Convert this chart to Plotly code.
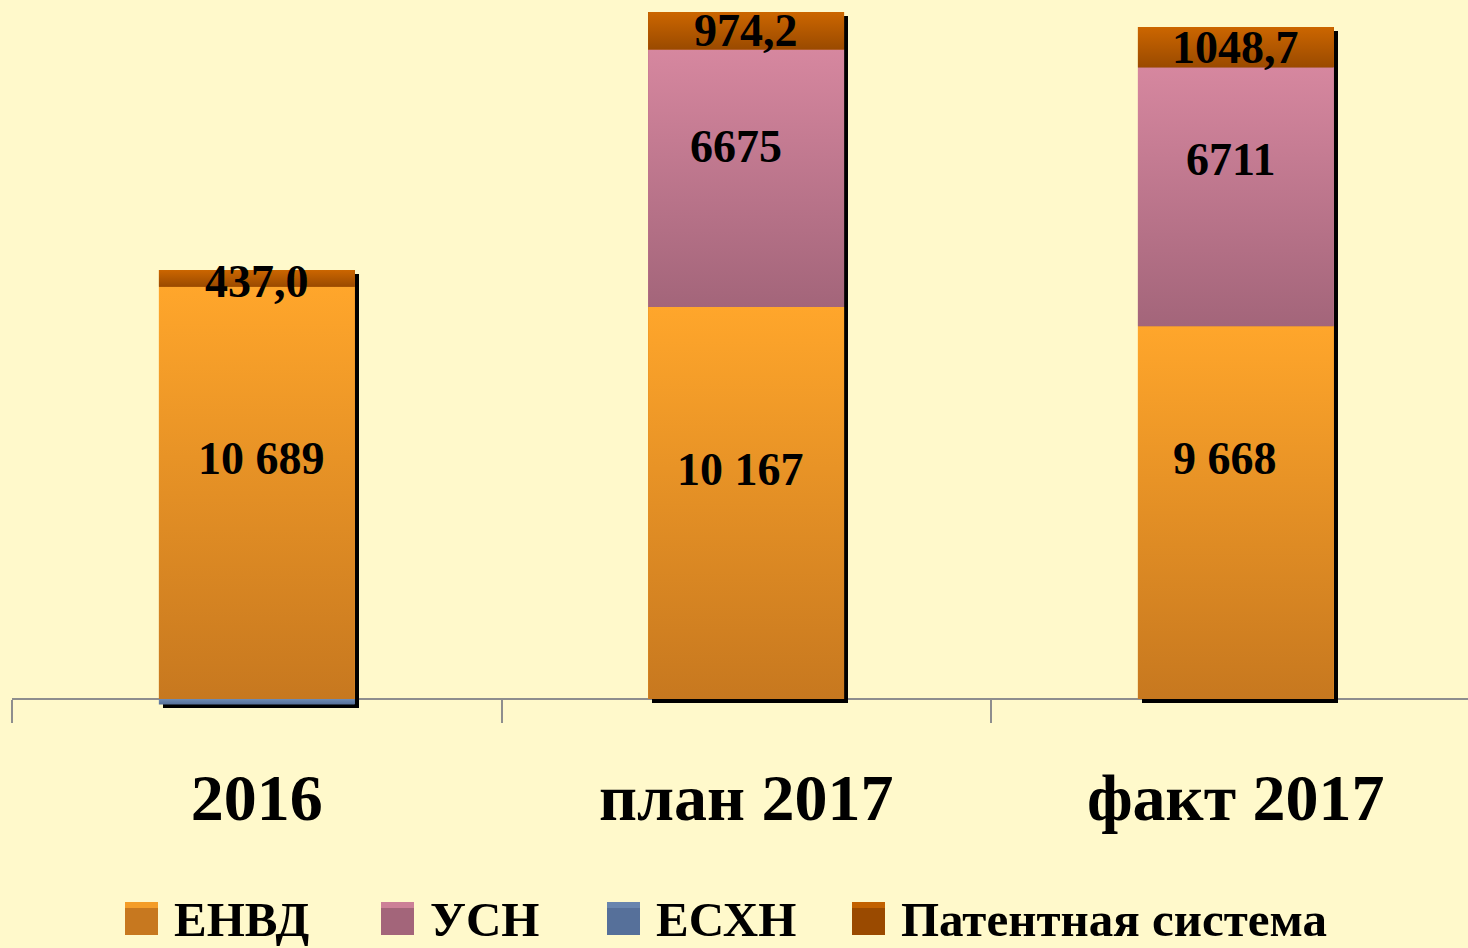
import plotly.graph_objects as go

# ---------------- data ----------------
categories = ["2016", "план 2017", "факт 2017"]
series_names = ["ЕНВД", "УСН", "ЕСХН", "Патентная система"]
envd = [10689, 10167, 9668]
usn = [0, 6675, 6711]
eshn = [-140, 0, 0]
patent = [437.0, 974.2, 1048.7]
envd_labels = ["10 689", "10 167", "9 668"]
usn_labels = ["", "6675", "6711"]
patent_labels = ["437,0", "974,2", "1048,7"]

# ---------------- style ----------------
W, H = 1468, 948
BG = "#FFF9CB"
FONT = "Liberation Serif"
ML, MT, MB = 12, 0, 218
PX_PER_UNIT_Y = 0.03856
X_RANGE = [-0.5, -0.5 + (W - ML) / 489.5]
PLOT_H = H - MT - MB
ZERO_PX = 699
Y_MAX = (ZERO_PX - MT) / PX_PER_UNIT_Y
Y_MIN = -(H - MB - ZERO_PX) / PX_PER_UNIT_Y
BAR_W = 0.4
SHADOW_DX = 4 / 489.5
SHADOW_DY = 4 / PX_PER_UNIT_Y
LEG_Y = 902  # top of legend squares (px)
LEG_FONT = 49

grad = {
    "ЕНВД": ("#C7781F", "#FFA62B"),
    "УСН": ("#A3657A", "#D6879F"),
    "ЕСХН": ("#56709A", "#6E8BB3"),
    "Патентная система": ("#9A4A00", "#CC6600"),
}
solid = {"ЕНВД": "#E08E25", "УСН": "#BC7589", "ЕСХН": "#5A7499", "Патентная система": "#B35800"}

values = {"ЕНВД": envd, "УСН": usn, "ЕСХН": eshn, "Патентная система": patent}

fig = go.Figure()

# shadow behind each stacked column
pos_tot = [a + b + d for a, b, d in zip(envd, usn, patent)]
neg_tot = [min(0, e) for e in eshn]
fig.add_trace(go.Bar(
    x=categories,
    y=[p - n for p, n in zip(pos_tot, neg_tot)],
    base=[n - SHADOW_DY for n in neg_tot],
    width=BAR_W, offset=-BAR_W / 2 + SHADOW_DX,
    marker=dict(color="black", line=dict(width=0)),
    showlegend=False, hoverinfo="skip",
))

# stacked bars (relative stacking)
for name in series_names:
    fig.add_trace(go.Bar(
        x=categories, y=values[name], name=name, width=BAR_W,
        marker=dict(color=solid[name], line=dict(width=0)),
        showlegend=False,
    ))

# gradient overlays computed from the same stacked values
pos_base = [0.0] * len(categories)
neg_base = [0.0] * len(categories)
segments = {}
for name in series_names:
    for i, v in enumerate(values[name]):
        if v == 0:
            continue
        if v > 0:
            b0, b1 = pos_base[i], pos_base[i] + v
            pos_base[i] = b1
        else:
            b0, b1 = neg_base[i] + v, neg_base[i]
            neg_base[i] = b0
        segments[(name, i)] = (b0, b1)
        x0, x1 = i - BAR_W / 2, i + BAR_W / 2
        lo, hi = grad[name]
        fig.add_trace(go.Scatter(
            x=[x0, x1, x1, x0, x0], y=[b0, b0, b1, b1, b0],
            mode="lines", fill="toself", line=dict(width=0, color=hi),
            fillgradient=dict(type="vertical", colorscale=[[0, lo], [1, hi]]),
            showlegend=False, hoverinfo="skip", xaxis="x2",
        ))

# data labels
label_sets = [
    ("ЕНВД", envd_labels, [5, -6, -11], [34, 33, 54]),
    ("УСН", usn_labels, [0, -10, -5], [0, 32, 37]),
    ("Патентная система", patent_labels, [0, 0, 0], [-3, 0, 0]),
]
for name, labels, xs, ys in label_sets:
    for i, t in enumerate(labels):
        if not t or (name, i) not in segments:
            continue
        b0, b1 = segments[(name, i)]
        fig.add_annotation(
            x=i, y=(b0 + b1) / 2, xref="x2", yref="y", text=t, showarrow=False,
            xshift=xs[i], yshift=ys[i],
            font=dict(family=FONT, size=46, color="black", weight="bold"),
        )

# manual legend
legend_sq = [(125, "ЕНВД"), (381, "УСН"), (607, "ЕСХН"), (852, "Патентная система")]
def px2x(px):
    return (px - ML) / (W - ML)
def py2y(py):
    return (H - MB - py) / PLOT_H
for sx, name in legend_sq:
    fig.add_shape(type="rect", xref="paper", yref="paper",
                  x0=px2x(sx), x1=px2x(sx + 33), y0=py2y(LEG_Y + 33), y1=py2y(LEG_Y),
                  fillcolor=grad[name][0], line=dict(width=0), layer="above")
    fig.add_shape(type="rect", xref="paper", yref="paper",
                  x0=px2x(sx), x1=px2x(sx + 33), y0=py2y(LEG_Y + 6), y1=py2y(LEG_Y),
                  fillcolor=grad[name][1], line=dict(width=0), opacity=0.8, layer="above")
    fig.add_annotation(x=px2x(sx + 47), y=py2y(LEG_Y + 17), xref="paper", yref="paper",
                       xanchor="left", yanchor="middle", text=name, showarrow=False,
                       font=dict(family=FONT, size=LEG_FONT, color="black", weight="bold"))

fig.update_layout(
    width=W, height=H, barmode="relative", bargap=0,
    paper_bgcolor=BG, plot_bgcolor=BG,
    margin=dict(l=ML, r=0, t=MT, b=MB),
    showlegend=False,
    xaxis=dict(
        type="category", range=X_RANGE, anchor="free",
        position=(0 - Y_MIN) / (Y_MAX - Y_MIN),
        showline=True, linecolor="#8E8E8E", linewidth=2,
        ticks="outside", ticklen=23, tickwidth=2, tickcolor="#8E8E8E",
        tickson="boundaries", showgrid=False, zeroline=False,
        tickfont=dict(family=FONT, size=66, color="black", weight="bold"),
        ticklabelstandoff=41, layer="below traces",
    ),
    xaxis2=dict(range=X_RANGE, overlaying="x", visible=False, anchor="y"),
    yaxis=dict(range=[Y_MIN, Y_MAX], visible=False, showgrid=False, zeroline=False),
)

fig.write_html(
    "out.html",
    config={"displayModeBar": False},
    post_script="document.body.style.margin='0';document.body.style.overflow='hidden';"
                "document.body.style.background='" + BG + "';",
)
